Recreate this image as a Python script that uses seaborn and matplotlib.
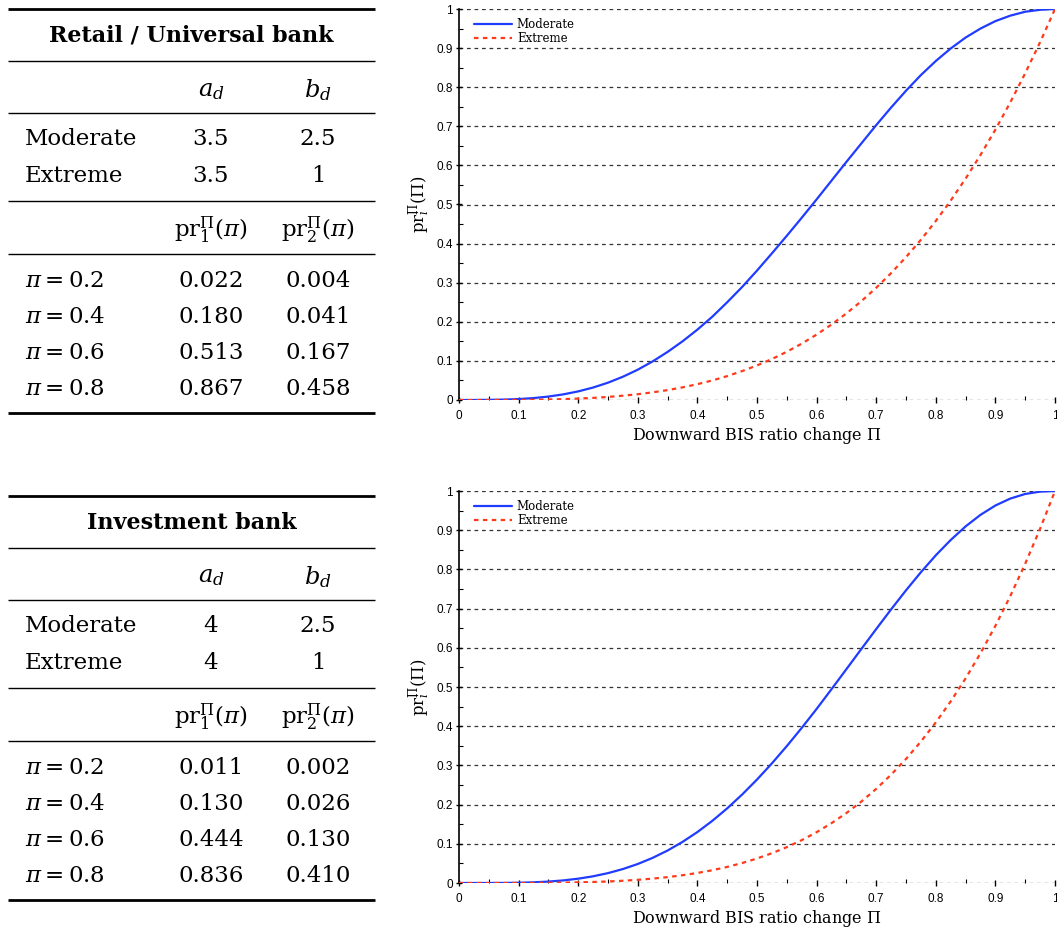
import numpy as np
import pandas as pd
import matplotlib
matplotlib.use("Agg")
import matplotlib.pyplot as plt
import seaborn as sns
from matplotlib.ticker import MultipleLocator, FuncFormatter

sns.set_style("white")
plt.rcParams['font.family'] = ['DejaVu Sans']
plt.rcParams['text.color'] = 'black'
plt.rcParams['axes.labelcolor'] = 'black'
plt.rcParams['xtick.color'] = 'black'
plt.rcParams['ytick.color'] = 'black'

# ---------------- data ----------------
x_grid = [0.0, 0.025, 0.05, 0.075, 0.1, 0.125, 0.15, 0.175, 0.2, 0.225,
          0.25, 0.275, 0.3, 0.325, 0.35, 0.375, 0.4, 0.425, 0.45, 0.475,
          0.5, 0.525, 0.55, 0.575, 0.6, 0.625, 0.65, 0.675, 0.7, 0.725,
          0.75, 0.775, 0.8, 0.825, 0.85, 0.875, 0.9, 0.925, 0.95, 0.975, 1.0]

retail_moderate = [0.0, 0.00003, 0.0004, 0.0010, 0.0024, 0.0049, 0.0088, 0.0144, 0.022, 0.0319,
                   0.0443, 0.0595, 0.0776, 0.0988, 0.123, 0.150, 0.180, 0.213, 0.250, 0.289,
                   0.331, 0.375, 0.420, 0.466, 0.513, 0.561, 0.609, 0.656, 0.703, 0.748,
                   0.791, 0.831, 0.867, 0.899, 0.927, 0.950, 0.969, 0.983, 0.993, 0.998, 1.0]
retail_extreme = [0.0, 0.00001, 0.00003, 0.0001, 0.0003, 0.0007, 0.0013, 0.0022, 0.0036, 0.0054,
                  0.0078, 0.011, 0.0148, 0.0196, 0.0253, 0.0323, 0.0405, 0.0500, 0.0611, 0.0739,
                  0.0884, 0.1048, 0.1234, 0.1441, 0.1673, 0.1930, 0.2214, 0.2527, 0.2870, 0.3245,
                  0.3654, 0.4098, 0.4579, 0.5100, 0.5662, 0.6267, 0.6916, 0.7612, 0.8357, 0.9152, 1.0]
invest_moderate = [0.0, 0.00001, 0.00004, 0.0002, 0.0006, 0.0017, 0.0036, 0.0066, 0.011, 0.0171,
                   0.0252, 0.0356, 0.0485, 0.0642, 0.0829, 0.1048, 0.130, 0.1585, 0.1904, 0.2256,
                   0.2639, 0.3052, 0.3492, 0.3956, 0.444, 0.4944, 0.5455, 0.5968, 0.6478, 0.698,
                   0.7466, 0.7928, 0.836, 0.875, 0.9097, 0.9392, 0.963, 0.9807, 0.9924, 0.9984, 1.0]
invest_extreme = [0.0, 0.0, 0.00001, 0.00003, 0.0001, 0.0002, 0.0005, 0.0009, 0.0016, 0.0026,
                  0.0039, 0.0057, 0.0081, 0.0112, 0.0150, 0.0198, 0.0256, 0.0326, 0.0410, 0.0509,
                  0.0625, 0.0760, 0.0915, 0.1093, 0.1296, 0.1526, 0.1785, 0.2076, 0.2401, 0.2763,
                  0.3164, 0.3608, 0.4096, 0.4633, 0.5220, 0.5862, 0.6561, 0.7321, 0.8145, 0.9037, 1.0]

series_labels = ["Moderate", "Extreme"]

table_titles = ["Retail / Universal bank", "Investment bank"]
param_a = [["3.5", "3.5"], ["4", "4"]]
param_b = [["2.5", "1"], ["2.5", "1"]]
pi_labels = [r"$\pi = 0.2$", r"$\pi = 0.4$", r"$\pi = 0.6$", r"$\pi = 0.8$"]
pr1_values = [["0.022", "0.180", "0.513", "0.867"], ["0.011", "0.130", "0.444", "0.836"]]
pr2_values = [["0.004", "0.041", "0.167", "0.458"], ["0.002", "0.026", "0.130", "0.410"]]

# ---------------- figure ----------------
W, H = 1057, 931
fig = plt.figure(figsize=(W / 100, H / 100), dpi=100)

# overlay axes in pixel coordinates for the tables
tab = fig.add_axes([0, 0, 1, 1])
tab.set_xlim(0, W)
tab.set_ylim(H, 0)
tab.axis("off")

serif = "DejaVu Serif"
fs = 16.5
col1, col2 = 211, 318
rx0, rx1 = 8, 375

def draw_table(k, y0):
    def rule(y, lw):
        tab.plot([rx0, rx1], [y0 + y, y0 + y], color="black", lw=lw, solid_capstyle="butt")
    rule(0, 2.0)
    tab.text((rx0 + rx1) / 2, y0 + 27, table_titles[k], ha="center", va="center",
             fontsize=16, fontweight="bold", family=serif)
    rule(52, 1.0)
    tab.text(col1, y0 + 81, r"$a_d$", ha="center", va="center", fontsize=fs + 1,
             family=serif, math_fontfamily="dejavuserif")
    tab.text(col2, y0 + 81, r"$b_d$", ha="center", va="center", fontsize=fs + 1,
             family=serif, math_fontfamily="dejavuserif")
    rule(104, 1.0)
    for i, lab in enumerate(series_labels):
        yy = y0 + 130 + 37 * i
        tab.text(25, yy, lab, ha="left", va="center", fontsize=fs, family=serif)
        tab.text(col1, yy, param_a[k][i], ha="center", va="center", fontsize=fs, family=serif)
        tab.text(col2, yy, param_b[k][i], ha="center", va="center", fontsize=fs, family=serif)
    rule(192, 1.0)
    tab.text(col1, y0 + 221, r"$\mathrm{pr}_1^{\Pi}(\pi)$", ha="center", va="center",
             fontsize=fs, family=serif, math_fontfamily="dejavuserif")
    tab.text(col2, y0 + 221, r"$\mathrm{pr}_2^{\Pi}(\pi)$", ha="center", va="center",
             fontsize=fs, family=serif, math_fontfamily="dejavuserif")
    rule(245, 1.0)
    for i, lab in enumerate(pi_labels):
        yy = y0 + 272 + 36 * i
        tab.text(25, yy, lab, ha="left", va="center", fontsize=fs, family=serif,
                 math_fontfamily="dejavuserif")
        tab.text(col1, yy, pr1_values[k][i], ha="center", va="center", fontsize=fs, family=serif)
        tab.text(col2, yy, pr2_values[k][i], ha="center", va="center", fontsize=fs, family=serif)
    rule(404, 2.0)

draw_table(0, 9)
draw_table(1, 496)

# ---------------- plots ----------------
ax_left = 459 / W
ax_w = 596 / W
ax_top = fig.add_axes([ax_left, 1 - 400 / H, ax_w, 391 / H])
ax_bot = fig.add_axes([ax_left, 1 - 883 / H, ax_w, 392 / H])

blue = "#1f3cff"
red = "#ff3a1a"

def fmt(v, pos):
    return "%g" % round(v, 2)

for ax, mod, ext in [(ax_top, retail_moderate, retail_extreme),
                     (ax_bot, invest_moderate, invest_extreme)]:
    df = pd.DataFrame({"x": x_grid, "Moderate": mod, "Extreme": ext})
    for yv in np.arange(0, 1.01, 0.1):
        ax.axhline(yv, color="#333333", lw=0.9, ls=(0, (3, 3)), zorder=0)
    sns.lineplot(data=df, x="x", y="Moderate", ax=ax, color=blue, lw=1.6,
                 label="Moderate", zorder=3)
    sns.lineplot(data=df, x="x", y="Extreme", ax=ax, color=red, lw=1.6,
                 ls=(0, (2, 2)), label="Extreme", zorder=3)
    ax.set_xlim(0, 1)
    ax.set_ylim(0, 1)
    ax.xaxis.set_major_locator(MultipleLocator(0.1))
    ax.xaxis.set_minor_locator(MultipleLocator(0.05))
    ax.yaxis.set_major_locator(MultipleLocator(0.1))
    ax.yaxis.set_minor_locator(MultipleLocator(0.05))
    ax.xaxis.set_major_formatter(FuncFormatter(fmt))
    ax.yaxis.set_major_formatter(FuncFormatter(fmt))
    ax.tick_params(axis="both", which="major", direction="inout", length=5, width=1,
                   labelsize=8.5, colors="black")
    ax.tick_params(axis="x", which="major", pad=5)
    ax.tick_params(axis="y", which="major", pad=2)
    ax.tick_params(axis="both", which="minor", direction="in", length=3, width=0.8)
    ax.tick_params(axis="x", which="both", bottom=True)
    ax.tick_params(axis="y", which="both", left=True)
    for s in ["top", "right", "bottom"]:
        ax.spines[s].set_visible(False)
    ax.spines["left"].set_color("black")
    ax.spines["left"].set_linewidth(1.2)
    ax.set_facecolor("none")
    ax.set_xlabel(r"Downward BIS ratio change $\Pi$", family=serif, fontsize=11.5,
                  labelpad=2, math_fontfamily="dejavuserif")
    ax.set_ylabel(r"$\mathrm{pr}_i^{\Pi}(\Pi)$", fontsize=12, labelpad=2,
                  math_fontfamily="dejavuserif")
    for lab in ax.get_xticklabels() + ax.get_yticklabels():
        lab.set_family("Liberation Sans")
    leg = ax.legend(loc="upper left", bbox_to_anchor=(0.01, 1.0), frameon=False,
                    prop={"family": serif, "size": 8.5}, handlelength=3.2,
                    handletextpad=0.4, labelspacing=0.05, borderaxespad=0.5,
                    borderpad=0.3)

fig.savefig("out.png", dpi=100)
